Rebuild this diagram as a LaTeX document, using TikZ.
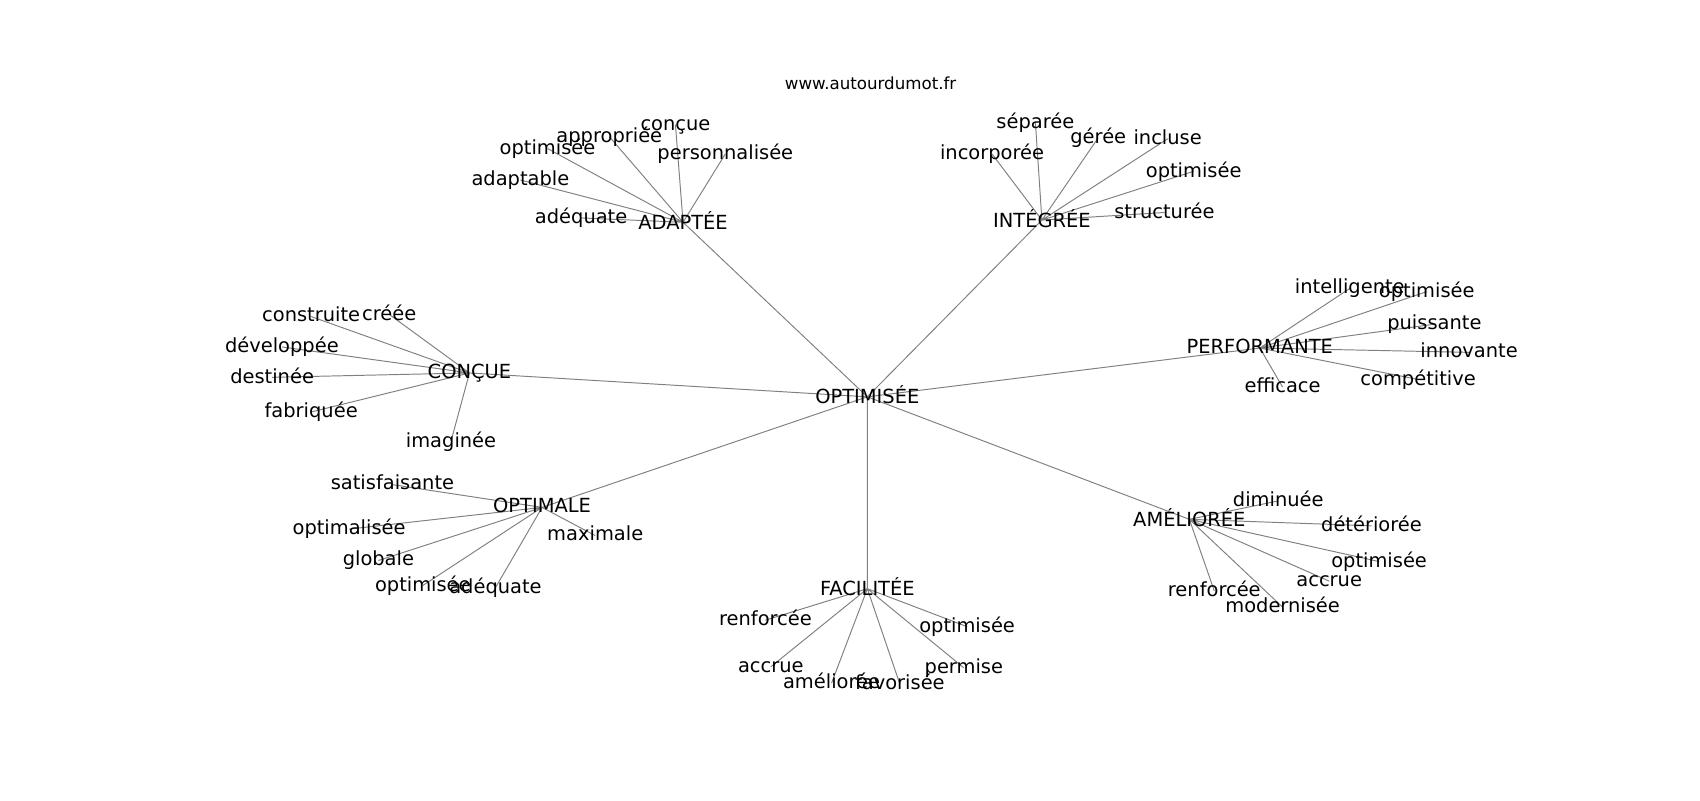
\documentclass[tikz,border=0pt]{standalone}
\usepackage{fontspec}
\setmainfont{DejaVu Sans}
\usetikzlibrary{backgrounds}
\definecolor{edgegray}{RGB}{128,128,128}
\tikzset{
  word/.style={inner sep=0pt, font=\fontsize{14bp}{16bp}\selectfont, execute at begin node={\vphantom{lp}}},
  link/.style={draw=edgegray, line width=0.7pt},
}
\begin{document}
\begin{tikzpicture}[x=0.02754cm, y=-0.02754cm, every node/.style={word}]
\useasboundingbox (0,0) rectangle (1568,738);
\node[font=\fontsize{12bp}{14bp}\selectfont] (T) at (803,78) {www.autourdumot.fr};
\node (P_0_0) at (800,366) {OPTIMISÉE};
% ADAPTEE
\node (P_1_1) at (630,205) {ADAPTÉE};
\node (P_2_1_1) at (623,115) {conçue};
\node (P_2_1_2) at (562,126) {appropriée};
\node (P_2_1_3) at (505,137) {optimisée};
\node (P_2_1_4) at (669,142) {personnalisée};
\node (P_2_1_5) at (480,166) {adaptable};
\node (P_2_1_6) at (536,201) {adéquate};
% INTEGREE
\node (P_1_2) at (961,203) {INTÉGRÉE};
\node (P_2_2_1) at (955,113) {séparée};
\node (P_2_2_2) at (1013,127) {gérée};
\node (P_2_2_3) at (1077,128) {incluse};
\node (P_2_2_4) at (915,142) {incorporée};
\node (P_2_2_5) at (1101,158) {optimisée};
\node (P_2_2_6) at (1074,196) {structurée};
% PERFORMANTE
\node (P_1_3) at (1162,321) {PERFORMANTE};
\node (P_2_3_1) at (1245,266) {intelligente};
\node (P_2_3_2) at (1316,269) {optimisée};
\node (P_2_3_3) at (1323,299) {puissante};
\node (P_2_3_4) at (1355,325) {innovante};
\node (P_2_3_5) at (1308,350) {compétitive};
\node (P_2_3_6) at (1183,357) {efficace};
% CONCUE
\node (P_1_4) at (433,344) {CONÇUE};
\node (P_2_4_1) at (287,292) {construite};
\node (P_2_4_2) at (359,290) {créée};
\node (P_2_4_3) at (260,320) {développée};
\node (P_2_4_4) at (251,348) {destinée};
\node (P_2_4_5) at (287,380) {fabriquée};
\node (P_2_4_6) at (416,407) {imaginée};
% OPTIMALE
\node (P_1_5) at (500,468) {OPTIMALE};
\node (P_2_5_1) at (362,447) {satisfaisante};
\node (P_2_5_2) at (322,488) {optimalisée};
\node (P_2_5_3) at (549,494) {maximale};
\node (P_2_5_4) at (349,517) {globale};
\node (P_2_5_5) at (390,540) {optimisée};
\node (P_2_5_6) at (457,542) {adéquate};
% FACILITEE
\node (P_1_6) at (800,543) {FACILITÉE};
\node (P_2_6_1) at (706,572) {renforcée};
\node (P_2_6_2) at (892,578) {optimisée};
\node (P_2_6_3) at (711,615) {accrue};
\node (P_2_6_4) at (889,616) {permise};
\node (P_2_6_5) at (767,630) {améliorée};
\node (P_2_6_6) at (830,631) {favorisée};
% AMELIOREE
\node (P_1_7) at (1097,479) {AMÉLIORÉE};
\node (P_2_7_1) at (1179,462) {diminuée};
\node (P_2_7_2) at (1265,485) {détériorée};
\node (P_2_7_3) at (1272,518) {optimisée};
\node (P_2_7_4) at (1226,536) {accrue};
\node (P_2_7_5) at (1120,545) {renforcée};
\node (P_2_7_6) at (1183,560) {modernisée};
\begin{pgfonlayer}{background}
\draw[link] (P_0_0.center) -- (P_1_1.center) (P_0_0.center) -- (P_1_2.center) (P_0_0.center) -- (P_1_3.center) (P_0_0.center) -- (P_1_4.center);
\draw[link] (P_0_0.center) -- (P_1_5.center) (P_0_0.center) -- (P_1_6.center) (P_0_0.center) -- (P_1_7.center);
\draw[link] (P_1_1.center) -- (P_2_1_1.center) (P_1_1.center) -- (P_2_1_2.center) (P_1_1.center) -- (P_2_1_3.center) (P_1_1.center) -- (P_2_1_4.center) (P_1_1.center) -- (P_2_1_5.center) (P_1_1.center) -- (P_2_1_6.center);
\draw[link] (P_1_2.center) -- (P_2_2_1.center) (P_1_2.center) -- (P_2_2_2.center) (P_1_2.center) -- (P_2_2_3.center) (P_1_2.center) -- (P_2_2_4.center) (P_1_2.center) -- (P_2_2_5.center) (P_1_2.center) -- (P_2_2_6.center);
\draw[link] (P_1_3.center) -- (P_2_3_1.center) (P_1_3.center) -- (P_2_3_2.center) (P_1_3.center) -- (P_2_3_3.center) (P_1_3.center) -- (P_2_3_4.center) (P_1_3.center) -- (P_2_3_5.center) (P_1_3.center) -- (P_2_3_6.center);
\draw[link] (P_1_4.center) -- (P_2_4_1.center) (P_1_4.center) -- (P_2_4_2.center) (P_1_4.center) -- (P_2_4_3.center) (P_1_4.center) -- (P_2_4_4.center) (P_1_4.center) -- (P_2_4_5.center) (P_1_4.center) -- (P_2_4_6.center);
\draw[link] (P_1_5.center) -- (P_2_5_1.center) (P_1_5.center) -- (P_2_5_2.center) (P_1_5.center) -- (P_2_5_3.center) (P_1_5.center) -- (P_2_5_4.center) (P_1_5.center) -- (P_2_5_5.center) (P_1_5.center) -- (P_2_5_6.center);
\draw[link] (P_1_6.center) -- (P_2_6_1.center) (P_1_6.center) -- (P_2_6_2.center) (P_1_6.center) -- (P_2_6_3.center) (P_1_6.center) -- (P_2_6_4.center) (P_1_6.center) -- (P_2_6_5.center) (P_1_6.center) -- (P_2_6_6.center);
\draw[link] (P_1_7.center) -- (P_2_7_1.center) (P_1_7.center) -- (P_2_7_2.center) (P_1_7.center) -- (P_2_7_3.center) (P_1_7.center) -- (P_2_7_4.center) (P_1_7.center) -- (P_2_7_5.center) (P_1_7.center) -- (P_2_7_6.center);
\end{pgfonlayer}
\end{tikzpicture}
\end{document}
